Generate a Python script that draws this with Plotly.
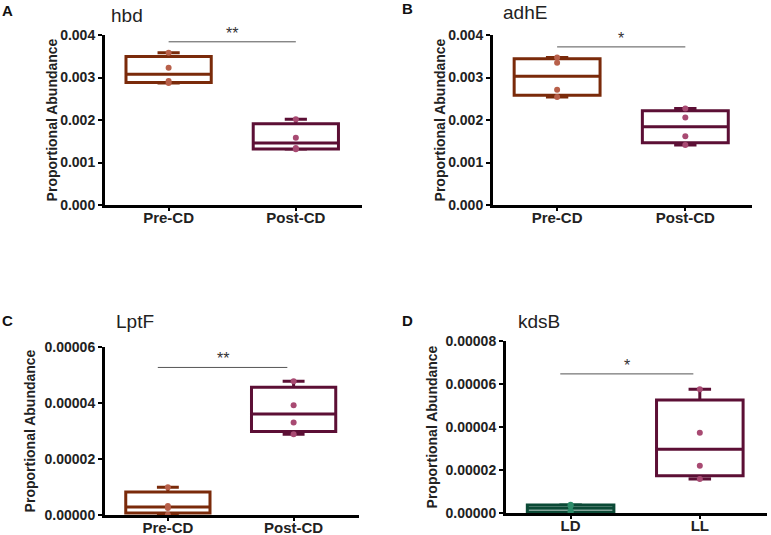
import numpy as np
import plotly.graph_objects as go

# values (4 samples per group)
hbd_pre = [0.00358, 0.00323, 0.00292, 0.00287]
hbd_post = [0.00202, 0.00158, 0.00134, 0.00131]
adhE_pre = [0.00347, 0.00335, 0.00271, 0.00254]
adhE_post = [0.00227, 0.00206, 0.00162, 0.00141]
lptF_pre = [0.0000099, 0.0000032, 0.0000025, 0.0000001]
lptF_post = [0.0000478, 0.0000392, 0.0000330, 0.0000288]
kdsB_ld = [0.0000038, 0.0000033, 0.0000011, 0.0000003]
kdsB_ll = [0.0000576, 0.0000373, 0.0000220, 0.0000158]

cd_labels = ["Pre-CD", "Post-CD"]
light_labels = ["LD", "LL"]
genes = ["hbd", "adhE", "LptF", "kdsB"]
letters = ["A", "B", "C", "D"]
stars = ["**", "*", "**", "*"]
sig_y = [0.00384, 0.00372, 0.0000527, 0.0000647]
ticks_ab = [0, 0.001, 0.002, 0.003, 0.004]
ticks_c = [0, 0.00002, 0.00004, 0.00006]
ticks_d = [0, 0.00002, 0.00004, 0.00006, 0.00008]

BROWN = "#7a2a0a"
BROWN_PT = "#b8604a"
MAROON = "#5c0f35"
MAROON_PT = "#a84a72"
GREEN = "#0b4a36"
GREEN_PT = "#2e8c6a"

FONT = "Liberation Sans, Arial, sans-serif"

W, H = 771, 535

# plot areas in pixels: (left, right, top, bottom)
areas = [(105, 362, 35, 205), (493, 752, 35, 205),
         (105, 359, 347, 515), (506, 767, 341, 513)]
title_standoff = [0, 0, 6, 5]


def prism_stats(vals):
    # Prism style quartiles: position p*(n+1)
    v = np.asarray(vals)
    q1 = np.percentile(v, 25, method="weibull")
    med = np.percentile(v, 50, method="weibull")
    q3 = np.percentile(v, 75, method="weibull")
    return q1, med, q3, v.min(), v.max()


panels = [
    (hbd_pre, hbd_post, cd_labels, (BROWN, BROWN_PT), (MAROON, MAROON_PT), ticks_ab, ".3f"),
    (adhE_pre, adhE_post, cd_labels, (BROWN, BROWN_PT), (MAROON, MAROON_PT), ticks_ab, ".3f"),
    (lptF_pre, lptF_post, cd_labels, (BROWN, BROWN_PT), (MAROON, MAROON_PT), ticks_c, ".5f"),
    (kdsB_ld, kdsB_ll, light_labels, (GREEN, GREEN_PT), (MAROON, MAROON_PT), ticks_d, ".5f"),
]

fig = go.Figure()
annotations = []
shapes = []

for i, (g1, g2, labels, c1, c2, tv, fmt) in enumerate(panels):
    n = i + 1
    xa = "x" if n == 1 else "x%d" % n
    ya = "y" if n == 1 else "y%d" % n
    for pos, vals, (lc, pc) in [(0, g1, c1), (1, g2, c2)]:
        q1, med, q3, lo, hi = prism_stats(vals)
        fig.add_trace(go.Box(
            x=[pos], q1=[q1], median=[med], q3=[q3],
            lowerfence=[lo], upperfence=[hi],
            width=0.67, whiskerwidth=0.26, boxpoints=False,
            line=dict(color=lc, width=3), fillcolor="rgba(255,255,255,0)",
            xaxis=xa, yaxis=ya, showlegend=False, hoverinfo="skip",
        ))
        fig.add_trace(go.Scatter(
            x=[pos] * len(vals), y=vals, mode="markers",
            marker=dict(color=pc, size=6),
            xaxis=xa, yaxis=ya, showlegend=False, cliponaxis=False,
        ))

    l, r, t, b = areas[i]
    axis_common = dict(
        showline=True, linewidth=3, linecolor="black", ticks="outside",
        tickwidth=2, tickcolor="black", showgrid=False,
        zeroline=False, automargin=False,
    )
    fig.layout["xaxis" if n == 1 else "xaxis%d" % n] = dict(
        domain=[l / W, r / W], anchor=ya, range=[-0.5, 1.52],
        tickvals=[0, 1], ticktext=labels, ticklen=3, ticklabelstandoff=-6,
        tickfont=dict(family=FONT, size=15, color="#222", weight="bold"),
        **axis_common,
    )
    fig.layout["yaxis" if n == 1 else "yaxis%d" % n] = dict(
        domain=[1 - b / H, 1 - t / H], anchor=xa, range=[0, tv[-1]],
        tickvals=tv, tickformat=fmt, ticklen=4,
        tickfont=dict(family=FONT, size=14, color="#222", weight="bold"),
        title=dict(text="Proportional Abundance", standoff=title_standoff[i],
                   font=dict(family=FONT, size=14, color="#222", weight="bold")),
        **axis_common,
    )

    # significance bar
    x0, x1 = (0, 1) if i < 2 else (-0.08, 0.95)
    shapes.append(dict(type="line", xref=xa, yref=ya, x0=x0, x1=x1,
                       y0=sig_y[i], y1=sig_y[i],
                       line=dict(color="#555", width=1)))
    annotations.append(dict(text=stars[i], xref=xa, yref=ya,
                            x=(x0 + x1) / 2, y=sig_y[i], yanchor="bottom",
                            yshift=-2, showarrow=False,
                            font=dict(family=FONT, size=16, color="#333")))

    # gene title and panel letter
    title_x = [109, 501, 114, 516][i]
    title_y = [15, 12, 321, 321][i]
    annotations.append(dict(text=genes[i], xref="paper", yref="paper",
                            x=title_x / W, y=1 - title_y / H,
                            xanchor="left", yanchor="middle", showarrow=False,
                            font=dict(family=FONT, size=19, color="#222")))
    let_x = [0, 400, 0, 400][i]
    let_y = [10, 9, 320, 320][i]
    annotations.append(dict(text=letters[i], xref="paper", yref="paper",
                            x=let_x / W, y=1 - let_y / H,
                            xanchor="left", yanchor="middle", showarrow=False,
                            font=dict(family=FONT, size=15, color="#111", weight="bold")))

fig.update_layout(
    width=W, height=H,
    margin=dict(l=0, r=0, t=0, b=0, autoexpand=False),
    paper_bgcolor="white",
    plot_bgcolor="white",
    shapes=shapes,
    annotations=annotations,
    showlegend=False,
)

# drop the default page margin so the figure fills the window
fig.write_html("out.html", config={"displayModeBar": False},
               post_script="document.body.style.margin='0';")
